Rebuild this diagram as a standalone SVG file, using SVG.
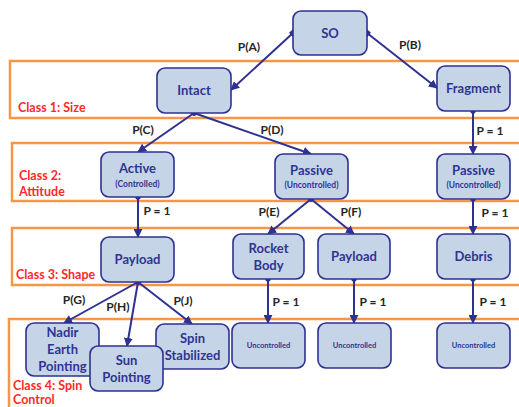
<svg xmlns="http://www.w3.org/2000/svg" width="519" height="407" viewBox="0 0 519 407">
<defs>
<marker id="arr" viewBox="0 0 10 10" refX="9" refY="5" markerWidth="4.5" markerHeight="4.5" orient="auto" markerUnits="strokeWidth">
<path d="M0,0 L10,5 L0,10 Z" fill="#2e3192"/>
</marker>
<marker id="dot" viewBox="0 0 10 10" refX="5" refY="5" markerWidth="3" markerHeight="3" orient="auto" markerUnits="strokeWidth">
<circle cx="5" cy="5" r="4.5" fill="#2e3192"/>
</marker>
<marker id="sq" viewBox="0 0 10 10" refX="5" refY="5" markerWidth="3.5" markerHeight="3.5" orient="auto" markerUnits="strokeWidth">
<rect x="1" y="1" width="8" height="8" fill="#2e3192"/>
</marker>
</defs>
<style>
.band{fill:none;stroke:#f79646;stroke-width:2.5}
.cls{font-family:Lato,"Liberation Sans",sans-serif;font-weight:bold;font-size:12.5px;fill:#ff2a2a}
.node rect{fill:#c6d4e8;stroke:#2e3192;stroke-width:1.6}
.node text{font-family:Lato,"Liberation Sans",sans-serif;font-weight:bold;fill:#2e3592;text-anchor:middle}
.t{font-size:13px}
.s{font-size:8.5px}
.u{font-size:7.5px}
.edge{fill:none;stroke:#2e3192;stroke-width:2;marker-end:url(#arr)}
.lbl{font-family:Lato,"Liberation Sans",sans-serif;font-weight:bold;font-size:12px;fill:#262626;text-anchor:middle}
</style>
<rect width="519" height="407" fill="#ffffff"/>
<g id="bands">
<rect class="band" x="10" y="61" width="520" height="57"/>
<rect class="band" x="12" y="143" width="520" height="58"/>
<rect class="band" x="12" y="228" width="520" height="57"/>
<rect class="band" x="9" y="319" width="520" height="100"/>
</g>
<g id="class-labels">
<text class="cls" x="18" y="112">Class 1: Size</text>
<text class="cls" x="19" y="180">Class 2:</text>
<text class="cls" x="19" y="196">Attitude</text>
<text class="cls" x="16" y="279">Class 3: Shape</text>
<text class="cls" x="13" y="390">Class 4: Spin</text>
<text class="cls" x="13" y="404">Control</text>
</g>
<g id="connectors">
<path class="edge" style="marker-start:url(#sq)" d="M293,33 L231,90"/>
<path class="edge" style="marker-start:url(#sq)" d="M367,33 L437,88"/>
<path class="edge" style="marker-start:url(#dot)" d="M194,113 L138,152"/>
<path class="edge" style="marker-start:url(#dot)" d="M194,113 L311,154"/>
<path class="edge" style="marker-start:url(#dot)" d="M473,111 L473,154"/>
<path class="edge" style="marker-start:url(#dot)" d="M138,197 L138,237"/>
<path class="edge" style="marker-start:url(#dot)" d="M311,199 L268,234"/>
<path class="edge" style="marker-start:url(#dot)" d="M311,199 L354,234"/>
<path class="edge" style="marker-start:url(#dot)" d="M473,199 L473,234"/>
<path class="edge" style="marker-start:url(#dot)" d="M268,279 L268,323"/>
<path class="edge" style="marker-start:url(#dot)" d="M354,279 L354,323"/>
<path class="edge" style="marker-start:url(#dot)" d="M473,279 L473,323"/>
<path class="edge" style="marker-start:url(#dot)" d="M138,282 L64,323"/>
<path class="edge" style="marker-start:url(#dot)" d="M138,282 L127,346"/>
<path class="edge" style="marker-start:url(#dot)" d="M138,282 L192,324"/>
</g>
<g id="edge-labels">
<text class="lbl" x="249" y="51">P(A)</text>
<text class="lbl" x="410" y="49">P(B)</text>
<text class="lbl" x="143" y="134">P(C)</text>
<text class="lbl" x="272" y="134">P(D)</text>
<text class="lbl" x="490" y="135">P = 1</text>
<text class="lbl" x="157" y="215">P = 1</text>
<text class="lbl" x="269" y="216">P(E)</text>
<text class="lbl" x="351" y="216">P(F)</text>
<text class="lbl" x="495" y="217">P = 1</text>
<text class="lbl" x="74" y="304">P(G)</text>
<text class="lbl" x="118" y="311">P(H)</text>
<text class="lbl" x="183" y="305">P(J)</text>
<text class="lbl" x="286" y="306">P = 1</text>
<text class="lbl" x="373" y="306">P = 1</text>
<text class="lbl" x="493" y="306">P = 1</text>
</g>
<g id="so" class="node"><rect x="293" y="11" width="74" height="44" rx="8"/><text class="t" x="330" y="38">SO</text></g>
<g id="intact" class="node"><rect x="157" y="68" width="74" height="45" rx="8"/><text class="t" x="194" y="95">Intact</text></g>
<g id="fragment" class="node"><rect x="437" y="66" width="73" height="45" rx="8"/><text class="t" x="473.500" y="93">Fragment</text></g>
<g id="active" class="node"><rect x="101" y="152" width="73" height="45" rx="8"/><text class="t" x="137.500" y="173">Active</text><text class="s" x="137.500" y="187">(Controlled)</text></g>
<g id="passive-mid" class="node"><rect x="275" y="154" width="73" height="45" rx="8"/><text class="t" x="311.500" y="175">Passive</text><text class="s" x="311.500" y="188">(Uncontrolled)</text></g>
<g id="passive-right" class="node"><rect x="437" y="154" width="73" height="45" rx="8"/><text class="t" x="473.500" y="175">Passive</text><text class="s" x="473.500" y="188">(Uncontrolled)</text></g>
<g id="payload-left" class="node"><rect x="101" y="237" width="73" height="45" rx="8"/><text class="t" x="137.500" y="264">Payload</text></g>
<g id="rocket-body" class="node"><rect x="233" y="234" width="71" height="45" rx="8"/><text class="t" x="268.500" y="253">Rocket</text><text class="t" x="268.500" y="270">Body</text></g>
<g id="payload-mid" class="node"><rect x="318" y="234" width="72" height="45" rx="8"/><text class="t" x="354" y="261">Payload</text></g>
<g id="debris" class="node"><rect x="437" y="234" width="73" height="45" rx="8"/><text class="t" x="473.500" y="261">Debris</text></g>
<g id="uncontrolled-1" class="node"><rect x="232" y="323" width="73" height="45" rx="8"/><text class="u" x="268.500" y="348">Uncontrolled</text></g>
<g id="uncontrolled-2" class="node"><rect x="318" y="323" width="73" height="45" rx="8"/><text class="u" x="354.500" y="348">Uncontrolled</text></g>
<g id="uncontrolled-3" class="node"><rect x="437" y="323" width="73" height="45" rx="8"/><text class="u" x="473.500" y="348">Uncontrolled</text></g>
<g id="nadir" class="node"><rect x="26" y="323" width="73" height="53" rx="8"/><text class="t" x="62.500" y="337">Nadir</text><text class="t" x="62.500" y="354">Earth</text><text class="t" x="62.500" y="371">Pointing</text></g>
<g id="spin" class="node"><rect x="156" y="324" width="73" height="45" rx="8"/><text class="t" x="192.500" y="343">Spin</text><text class="t" x="192.500" y="360">Stabilized</text></g>
<g id="sun" class="node"><rect x="90" y="346" width="73" height="45" rx="8"/><text class="t" x="126.500" y="365">Sun</text><text class="t" x="126.500" y="382">Pointing</text></g>
</svg>
